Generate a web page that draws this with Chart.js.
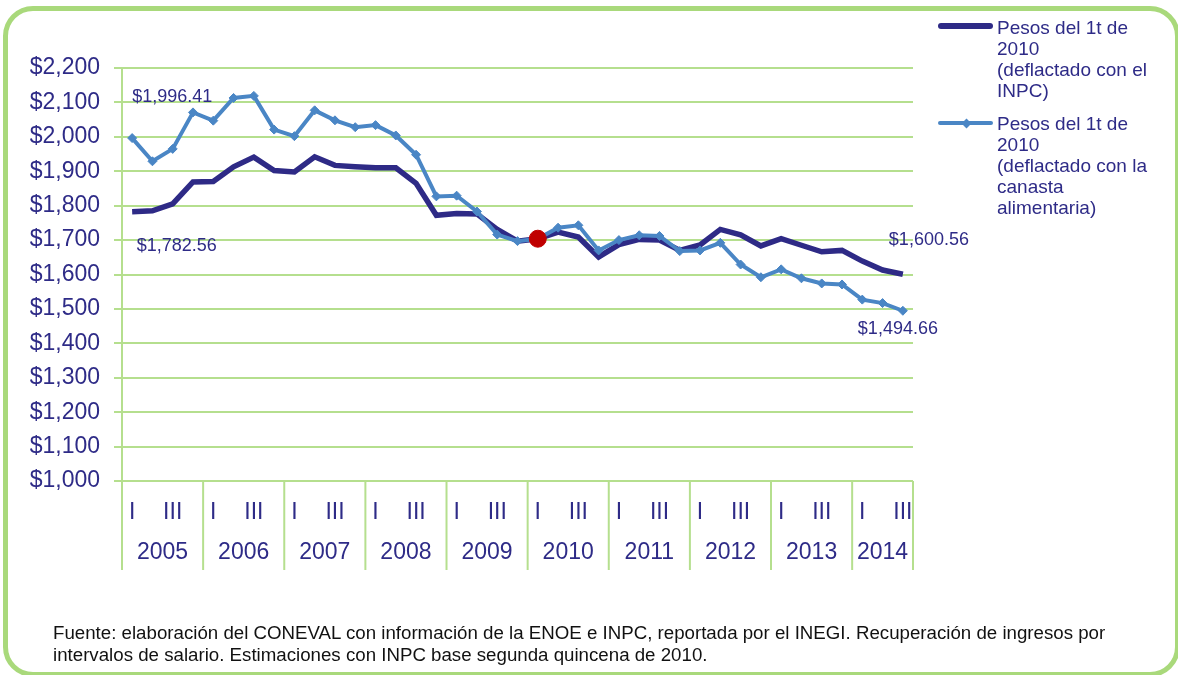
<!DOCTYPE html>
<html>
<head>
<meta charset="utf-8">
<script src="https://cdn.jsdelivr.net/npm/chart.js@4.4.1/dist/chart.umd.min.js"></script>
<style>
body{margin:0;width:1178px;height:675px;overflow:hidden;background:#fff;position:relative;font-family:"Liberation Sans",Arial,sans-serif;}
#frame{position:absolute;left:3px;top:6px;width:1177px;height:671px;box-sizing:border-box;border:5.5px solid #A9D97B;border-radius:30px;}
#chart{position:absolute;left:0;top:0;}
.leg{position:absolute;left:0;top:0;color:#2E2B87;font-size:19px;line-height:21px;}
.leg .sample{position:absolute;left:938px;width:55px;border-radius:3px;}
.leg .txt{position:absolute;left:997px;white-space:nowrap;}
.leg .dia{position:absolute;left:963px;width:7px;height:7px;transform:rotate(45deg);}
#note{position:absolute;left:53px;top:622px;font-size:18.7px;line-height:22px;color:#111;white-space:nowrap;}
</style>
</head>
<body>
<div id="frame"></div>
<canvas id="chart" width="1178" height="675"></canvas>
<div id="legend"></div>
<div id="note">Fuente: elaboración del CONEVAL con información de la ENOE e INPC, reportada por el INEGI. Recuperación de ingresos por<br>intervalos de salario. Estimaciones con INPC base segunda quincena de 2010.</div>
<script>
const years = ['2005','2006','2007','2008','2009','2010','2011','2012','2013','2014'];
const quarterNames = ['I','II','III','IV'];
const quarterTicks = ['I','','III',''];
const lastQuarter = 3; // 2014 ends at III

// pesos del 1t de 2010, deflactado con el INPC
const inpc = [1782.56,1785,1805,1869, 1870,1913,1941,1902, 1898,1942,1917,1913,
  1910,1910,1865,1772, 1777,1776,1731,1697, 1704,1723,1709,1651,
  1687,1702,1700,1670, 1686,1731,1715,1683, 1704,1685,1666,1670,
  1639,1613,1600.56];
// pesos del 1t de 2010, deflactado con la canasta alimentaria
const canasta = [1996.41,1929,1965,2071, 2047,2113,2119,2021, 2002,2077,2048,2028,
  2034,2004,1948,1827, 1829,1783,1716,1697, 1704,1736,1743,1670,
  1700,1714,1712,1668, 1670,1692,1629,1592, 1615,1589,1574,1571,
  1527,1517,1494.66];
const baseIndex = 20; // 2010 I
const baseValue = 1704;

const navy = '#2E2A86';
const blue = '#4A86C5';
const gridColor = '#B5DF8E';
const textColor = '#2E2B87';

const categories = [];
years.forEach((y, j) => quarterNames.forEach((q, k) => {
    if (j < years.length - 1 || k < lastQuarter) categories.push(`${y} ${q}`);
}));
const basePoint = categories.map((_, i) => i === baseIndex ? baseValue : null);

const money = (v, d) => '$' + v.toLocaleString('en-US', {minimumFractionDigits:d, maximumFractionDigits:d});

Chart.defaults.font.family = "'Liberation Sans', Arial, sans-serif";

// year row, separators and value labels
const decor = {
    id:'decor',
    afterDraw(chart){
        const {ctx, chartArea, scales:{x, y}} = chart;
        const step = x.getPixelForValue(1) - x.getPixelForValue(0);
        const labelBottom = 570;
        ctx.save();
        ctx.strokeStyle = gridColor;
        ctx.lineWidth = 2;
        ctx.fillStyle = textColor;
        ctx.font = "23px 'Liberation Sans', Arial, sans-serif";
        ctx.textAlign = 'center';
        ctx.textBaseline = 'middle';
        years.forEach((yr, j) => {
            const first = j * 4;
            const last = Math.min(first + 3, categories.length - 1);
            const left = x.getPixelForValue(first) - step / 2;
            ctx.beginPath(); ctx.moveTo(left, chartArea.bottom); ctx.lineTo(left, labelBottom); ctx.stroke();
            ctx.fillText(yr, (x.getPixelForValue(first) + x.getPixelForValue(last)) / 2, 553);
        });
        ctx.beginPath(); ctx.moveTo(chartArea.right, chartArea.bottom); ctx.lineTo(chartArea.right, labelBottom); ctx.stroke();

        // end point labels
        const n = categories.length - 1;
        const notes = [
            { v:canasta[0], i:0, dx:0, dy:-41 },
            { v:inpc[0], i:0, dx:4.5, dy:34 },
            { v:inpc[n], i:n, dx:-14, dy:-34.5 },
            { v:canasta[n], i:n, dx:-45, dy:18 }
        ];
        ctx.font = "18px 'Liberation Sans', Arial, sans-serif";
        ctx.textAlign = 'left';
        notes.forEach(a => {
            ctx.fillText(money(a.v, 2), x.getPixelForValue(a.i) + a.dx, y.getPixelForValue(a.v) + a.dy);
        });
        ctx.restore();
    }
};

const chart = new Chart(document.getElementById('chart').getContext('2d'), {
    type:'line',
    data:{
        labels:categories,
        datasets:[
            { label:'Pesos del 1t de 2010 (deflactado con el INPC)', data:inpc, borderColor:navy, backgroundColor:navy,
              borderWidth:5.5, pointRadius:0, tension:0, order:2 },
            { label:'Pesos del 1t de 2010 (deflactado con la canasta alimentaria)', data:canasta, borderColor:blue, backgroundColor:blue,
              borderWidth:4, pointStyle:'rectRot', pointRadius:4.5, pointBorderWidth:1, pointBorderColor:blue, tension:0, order:1 },
            { label:'1t 2010', data:basePoint, showLine:false, pointRadius:8.5, backgroundColor:'#C00000', borderColor:'#C00000', order:0 }
        ]
    },
    options:{
        responsive:false,
        animation:false,
        layout:{ padding:{ left:0, top:68, right:265, bottom:0 } },
        plugins:{ legend:{ display:false }, tooltip:{ enabled:false } },
        scales:{
            x:{
                offset:true,
                grid:{ display:false },
                border:{ display:false },
                ticks:{ autoSkip:false, maxRotation:0, minRotation:0, padding:10, color:textColor, font:{ size:23 },
                    callback:(v, i) => quarterTicks[i % 4] },
                afterFit:s => { s.height = 194; }
            },
            y:{
                min:1000, max:2200,
                ticks:{ stepSize:100, padding:14, color:textColor, font:{ size:23 }, callback:v => money(v, 0) },
                grid:{ color:gridColor, lineWidth:2, tickLength:8 },
                border:{ color:gridColor, width:2 },
                afterFit:s => { s.width = 122; }
            }
        }
    },
    plugins:[decor]
});

// legend with the same line breaks as the source
const legendItems = [
    { set:0, top:17, lineY:26, text:'Pesos del 1t de<br>2010<br>(deflactado con el<br>INPC)' },
    { set:1, top:113, lineY:123, text:'Pesos del 1t de<br>2010<br>(deflactado con la<br>canasta<br>alimentaria)' }
];
const legend = document.getElementById('legend');
legendItems.forEach(item => {
    const ds = chart.data.datasets[item.set];
    const el = document.createElement('div');
    el.className = 'leg';
    const h = ds.borderWidth;
    let html = `<div class="sample" style="top:${item.lineY - h/2}px;height:${h}px;background:${ds.borderColor}"></div>`;
    if (ds.pointRadius) html += `<div class="dia" style="top:${item.lineY - 3.5}px;background:${ds.borderColor}"></div>`;
    html += `<div class="txt" style="top:${item.top}px">${item.text}</div>`;
    el.innerHTML = html;
    legend.appendChild(el);
});
</script>
</body>
</html>
